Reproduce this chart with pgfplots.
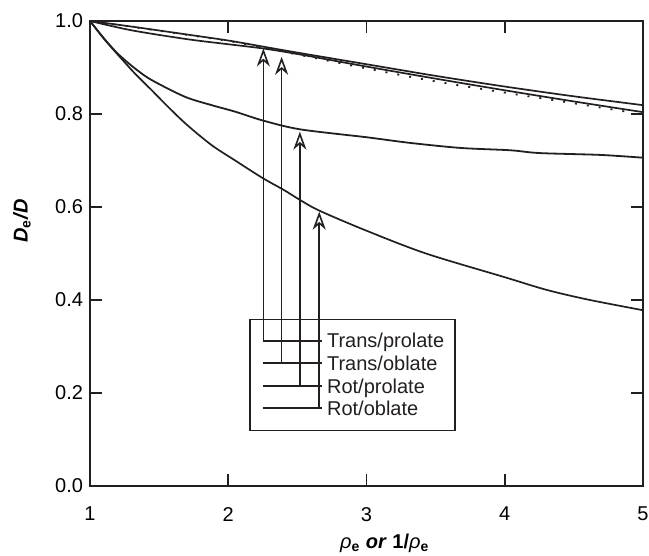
\documentclass[border=0pt]{standalone}
\usepackage{fontspec}
\setmainfont{Liberation Sans}
\usepackage{pgfplots}
\pgfplotsset{compat=1.18}
\usetikzlibrary{arrows.meta,calc}
\definecolor{ink}{HTML}{231F20}

\pgfplotstableread{
x y
1.000 1.000
1.300 0.988
1.700 0.971
2.000 0.958
2.250 0.945
2.500 0.932
3.000 0.907
3.500 0.882
4.000 0.859
4.500 0.838
5.000 0.819
}\transoblate

\pgfplotstableread{
x y
1.000 1.000
1.300 0.980
1.700 0.961
2.000 0.950
2.250 0.941
2.500 0.929
3.000 0.902
3.500 0.876
4.000 0.851
4.500 0.827
5.000 0.804
}\transprolate

\pgfplotstableread{
x y
1.000 1.000
1.500 0.979
2.000 0.957
2.300 0.940
2.500 0.928
3.000 0.898
3.500 0.870
4.000 0.846
4.500 0.823
4.880 0.805
}\approxline

\pgfplotstableread{
x y
1.000 1.000
1.100 0.963
1.200 0.930
1.325 0.898
1.446 0.873
1.687 0.837
1.880 0.819
2.050 0.805
2.250 0.786
2.520 0.767
3.000 0.750
3.310 0.738
3.680 0.727
4.040 0.722
4.250 0.716
4.690 0.712
5.000 0.706
}\rotprolate

\pgfplotstableread{
x y
1.000 1.000
1.100 0.962
1.200 0.928
1.325 0.887
1.450 0.850
1.566 0.815
1.700 0.777
1.880 0.733
2.050 0.700
2.250 0.662
2.400 0.637
2.520 0.615
2.660 0.592
3.000 0.549
3.430 0.500
4.000 0.449
4.300 0.422
4.600 0.401
5.000 0.378
}\rotoblate

\begin{document}
\begin{tikzpicture}[font=\fontsize{10}{12}\selectfont,
  arr/.style={ink, line width=0.85pt, -{Stealth[open, length=9pt, width=6.5pt, inset=2.8pt, line width=0.8pt]}}]
\begin{axis}[name=ax, scale only axis, width=276.5pt, height=232.5pt,
  xmin=1, xmax=5, ymin=0, ymax=1,
  xtick={1,2,3,4,5}, ytick={0,0.2,0.4,0.6,0.8,1},
  /pgf/number format/assume math mode=true,
  yticklabel style={/pgf/number format/.cd, fixed, fixed zerofill, precision=1},
  xticklabel style={yshift=-7pt},
  tick align=inside, major tick length=6pt,
  axis line style={line width=1pt, ink},
  tick style={line width=0.9pt, ink},
  xlabel={\textit{ρ}\textsubscript{\textbf{e}} \textbf{\textit{or}} \textbf{1/}\textit{ρ}\textsubscript{\textbf{e}}},
  ylabel={\textbf{\textit{D}\textsubscript{e}\textit{/D}}},
  xlabel style={at={(axis description cs:0.533,0)}, anchor=base, yshift=-31pt},
  ylabel style={at={(axis description cs:-0.123,0.57)}, anchor=center},
  clip=false,
]
\addplot[ink, line width=0.85pt, smooth, tension=0.5] table {\transoblate};
\addplot[ink, line width=0.85pt, smooth, tension=0.5] table {\transprolate};
\addplot[ink, line width=0.9pt, smooth, tension=0.5, dash pattern=on 1pt off 5pt] table {\approxline};
\addplot[ink, line width=0.9pt, smooth, tension=0.5] table {\rotprolate};
\addplot[ink, line width=0.85pt, smooth, tension=0.5] table {\rotoblate};

% legend box with connectors and arrows
\draw[ink, line width=0.7pt] (axis cs:2.157,0.120) rectangle (axis cs:3.639,0.3585);
\draw[ink, line width=0.85pt] (axis cs:2.254,0.3125) -- (axis cs:2.675,0.3125);
\draw[ink, line width=0.85pt] (axis cs:2.254,0.2639) -- (axis cs:2.675,0.2639);
\draw[ink, line width=0.85pt] (axis cs:2.254,0.2150) -- (axis cs:2.675,0.2150);
\draw[ink, line width=0.85pt] (axis cs:2.254,0.1670) -- (axis cs:2.675,0.1670);
\draw[arr] (axis cs:2.254,0.3125) -- (axis cs:2.254,0.941);
\draw[arr] (axis cs:2.386,0.2639) -- (axis cs:2.386,0.923);
\draw[arr] (axis cs:2.518,0.2150) -- (axis cs:2.518,0.762);
\draw[arr] (axis cs:2.658,0.1670) -- (axis cs:2.658,0.590);
\node[anchor=base west, inner sep=0pt, yshift=-3.6pt, text=ink] at (axis cs:2.712,0.3125) {Trans/prolate};
\node[anchor=base west, inner sep=0pt, yshift=-3.6pt, text=ink] at (axis cs:2.712,0.2639) {Trans/oblate};
\node[anchor=base west, inner sep=0pt, yshift=-3.6pt, text=ink] at (axis cs:2.712,0.2150) {Rot/prolate};
\node[anchor=base west, inner sep=0pt, yshift=-3.6pt, text=ink] at (axis cs:2.712,0.1670) {Rot/oblate};
\end{axis}
\pgfresetboundingbox
\path ($(ax.south west)+(-45pt,-34.5pt)$) rectangle ($(ax.north east)+(3pt,10.5pt)$);
\end{tikzpicture}
\end{document}
